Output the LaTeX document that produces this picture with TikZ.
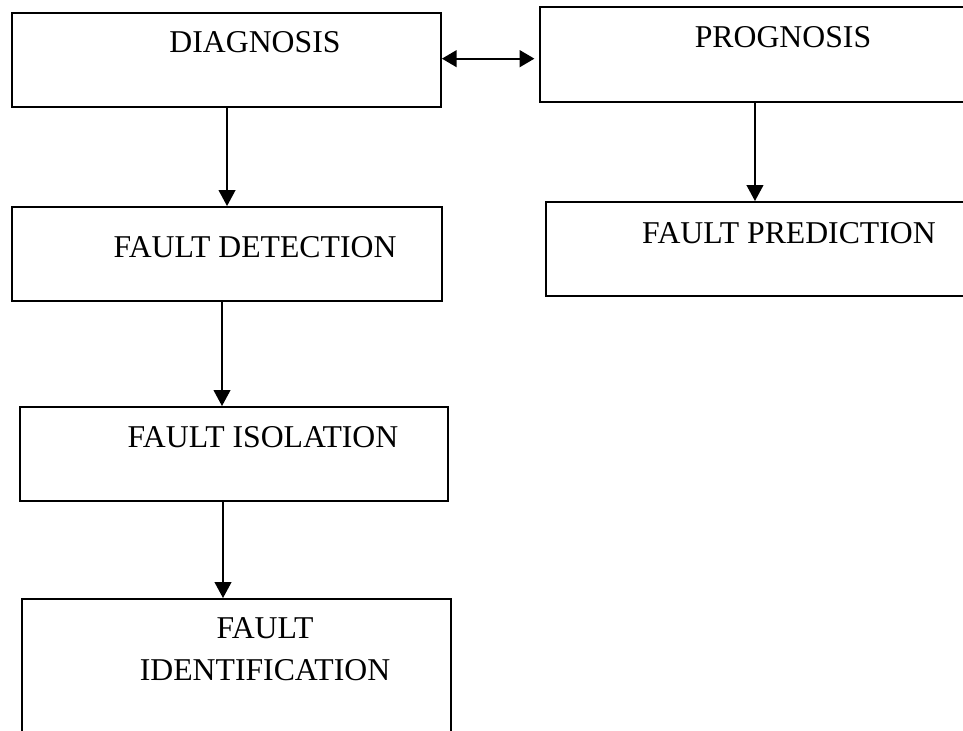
\documentclass[tikz,border=0pt]{standalone}
\usepackage{fontspec}
\setmainfont{Liberation Serif}
\usetikzlibrary{fit,arrows.meta}
\begin{document}
\begin{tikzpicture}[x=0.75pt,y=-0.75pt,
  box/.style={draw=black,line width=1.4pt,inner sep=0pt,rectangle},
  lbl/.style={anchor=base,inner sep=0pt,font=\fontsize{23.8pt}{31.5pt}\selectfont},
  arr/.style={line width=1.5pt,-{Triangle[length=12pt,width=12.5pt]}},
  darr/.style={line width=1.5pt,{Triangle[length=11pt,width=12.5pt]}-{Triangle[length=11pt,width=12.5pt]}}]
\clip (0,0) rectangle (963,731);
\fill[white] (0,0) rectangle (963,731);
% boxes
\node[box,fit={(12,13) (441,107)}] (diag) {};
\node[box,fit={(540,7) (975,102)}] (prog) {};
\node[box,fit={(12,207) (442,301)}] (fd) {};
\node[box,fit={(546,202) (975,296)}] (fp) {};
\node[box,fit={(20,407) (448,501)}] (fi) {};
\node[box,fit={(22,599) (451,770)}] (fid) {};
% labels
\node[lbl] (tdiag) at (255,53) {DIAGNOSIS};
\node[lbl] (tprog) at (783,48) {PROGNOSIS};
\node[lbl] (tfd) at (255,257) {FAULT DETECTION};
\node[lbl] (tfp) at (789,243) {FAULT PREDICTION};
\node[lbl] (tfi) at (263,447) {FAULT ISOLATION};
\node[lbl] (tfid1) at (265,638) {FAULT};
\node[lbl] (tfid2) at (265,680) {IDENTIFICATION};
% connectors
\coordinate (pr) at ([xshift=-3.5pt]prog.west |- diag.east);
\draw[darr] ([yshift=1pt]diag.east) -- ([yshift=1pt]pr);
\draw[arr] ([xshift=0.4pt]diag.south) -- ([xshift=0.4pt]diag.south |- fd.north);
\draw[arr] ([xshift=-1.9pt]prog.south) -- ([xshift=-1.9pt]prog.south |- fp.north);
\draw[arr] ([xshift=-3.75pt]fd.south) -- ([xshift=-3.75pt]fd.south |- fi.north);
\draw[arr] ([xshift=-8.25pt]fi.south) -- ([xshift=-8.25pt]fi.south |- fid.north);
\end{tikzpicture}
\end{document}
